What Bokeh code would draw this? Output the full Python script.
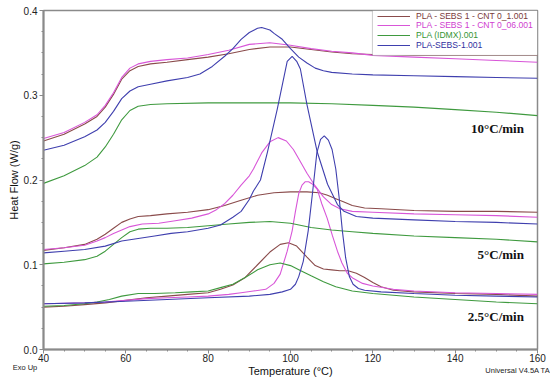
from bokeh.plotting import figure
from bokeh.models import (Label, BoxAnnotation, Legend, LegendItem, LinearAxis, Range1d,
                          FixedTicker, SingleIntervalTicker, PrintfTickFormatter)
from bokeh.embed import file_html
from bokeh.resources import INLINE

# ---------------- data ----------------
series_names = ["PLA - SEBS 1 - CNT 0_1.001", "PLA - SEBS 1 - CNT 0_06.001",
                "PLA (IDMX).001", "PLA-SEBS-1.001"]
rate_labels = ["10°C/min", "5°C/min", "2.5°C/min"]
x_ticks_major = [40, 60, 80, 100, 120, 140, 160]
y_ticks_major = [0.0, 0.1, 0.2, 0.3, 0.4]

# 10 °C/min
t_10_brown = [40, 45, 50, 53, 55, 57, 59, 61, 63, 66, 70, 75, 80, 85, 90, 95, 100, 105, 110, 115, 120, 130, 140, 150, 160]
hf_10_brown = [0.246, 0.254, 0.266, 0.275, 0.286, 0.301, 0.319, 0.329, 0.334, 0.337, 0.339, 0.342, 0.345, 0.349, 0.354, 0.357, 0.357, 0.354, 0.351, 0.349, 0.348, 0.347, 0.347, 0.347, 0.347]
t_10_pink = [40, 45, 50, 53, 55, 57, 59, 61, 63, 66, 70, 75, 80, 85, 90, 95, 100, 105, 110, 115, 120, 130, 140, 150, 160]
hf_10_pink = [0.249, 0.256, 0.268, 0.277, 0.288, 0.303, 0.321, 0.332, 0.337, 0.340, 0.342, 0.344, 0.348, 0.353, 0.360, 0.362, 0.359, 0.355, 0.352, 0.350, 0.347, 0.345, 0.343, 0.341, 0.339]
t_10_green = [40, 45, 50, 53, 55, 57, 59, 61, 63, 66, 70, 80, 90, 100, 110, 120, 130, 140, 150, 160]
hf_10_green = [0.196, 0.205, 0.217, 0.227, 0.239, 0.254, 0.271, 0.282, 0.287, 0.289, 0.290, 0.291, 0.291, 0.291, 0.290, 0.288, 0.286, 0.283, 0.280, 0.276]
t_10_blue = [40, 45, 50, 53, 55, 57, 59, 61, 63, 66, 70, 75, 78, 81, 84, 86, 88, 90, 92, 93, 95, 96, 98, 100, 102, 104, 106, 108, 110, 115, 120, 130, 140, 150, 160]
hf_10_blue = [0.235, 0.241, 0.251, 0.259, 0.268, 0.281, 0.296, 0.305, 0.310, 0.313, 0.317, 0.321, 0.325, 0.334, 0.346, 0.355, 0.366, 0.374, 0.379, 0.380, 0.377, 0.373, 0.366, 0.355, 0.345, 0.338, 0.332, 0.329, 0.327, 0.325, 0.324, 0.323, 0.322, 0.321, 0.320]

# 5 °C/min
t_5_brown = [40, 45, 50, 53, 55, 57, 59, 61, 63, 66, 70, 75, 80, 84, 88, 92, 96, 100, 104, 107, 109, 111, 113, 115, 118, 122, 130, 140, 150, 160]
hf_5_brown = [0.117, 0.120, 0.124, 0.130, 0.136, 0.143, 0.150, 0.154, 0.157, 0.158, 0.160, 0.162, 0.165, 0.170, 0.176, 0.182, 0.185, 0.186, 0.186, 0.185, 0.182, 0.178, 0.174, 0.170, 0.167, 0.166, 0.164, 0.163, 0.163, 0.162]
t_5_pink = [40, 45, 50, 53, 55, 57, 59, 61, 64, 68, 72, 76, 80, 82, 84, 86, 88, 90, 91, 93, 95, 97, 99, 100.7, 102, 104, 106, 108, 110, 112, 115, 120, 130, 140, 150, 160]
hf_5_pink = [0.118, 0.120, 0.123, 0.128, 0.132, 0.137, 0.141, 0.145, 0.148, 0.149, 0.152, 0.155, 0.160, 0.165, 0.172, 0.182, 0.194, 0.205, 0.213, 0.232, 0.245, 0.250, 0.246, 0.236, 0.225, 0.208, 0.193, 0.180, 0.171, 0.166, 0.163, 0.162, 0.160, 0.159, 0.158, 0.156]
t_5_green = [40, 45, 50, 53, 55, 57, 59, 61, 63, 66, 70, 75, 80, 85, 90, 95, 100, 105, 110, 115, 120, 130, 140, 150, 160]
hf_5_green = [0.101, 0.103, 0.106, 0.110, 0.116, 0.124, 0.132, 0.139, 0.142, 0.143, 0.143, 0.144, 0.146, 0.148, 0.150, 0.151, 0.149, 0.144, 0.141, 0.139, 0.137, 0.134, 0.132, 0.130, 0.127]
t_5_blue = [40, 45, 50, 55, 59, 63, 67, 71, 75, 80, 83, 86, 88, 90, 91, 92.7, 94.4, 96.8, 99.2, 100.4, 101.5, 102.4, 104, 106.5, 109, 111.4, 113, 116, 120, 130, 140, 150, 160]
hf_5_blue = [0.114, 0.116, 0.118, 0.122, 0.128, 0.131, 0.134, 0.137, 0.139, 0.143, 0.147, 0.156, 0.163, 0.177, 0.187, 0.200, 0.233, 0.284, 0.340, 0.346, 0.340, 0.331, 0.289, 0.233, 0.195, 0.171, 0.163, 0.157, 0.155, 0.153, 0.151, 0.150, 0.148]

# 2.5 °C/min
t_25_brown = [40, 45, 50, 55, 60, 65, 70, 75, 80, 83, 86, 89, 92, 95, 97.5, 99.5, 101.5, 104, 106, 108, 110, 112, 114, 116, 118, 120, 122, 125, 130, 140, 150, 160]
hf_25_brown = [0.050, 0.051, 0.053, 0.055, 0.058, 0.061, 0.063, 0.065, 0.067, 0.071, 0.076, 0.085, 0.100, 0.115, 0.124, 0.126, 0.122, 0.109, 0.099, 0.095, 0.094, 0.093, 0.093, 0.090, 0.085, 0.079, 0.074, 0.070, 0.068, 0.066, 0.065, 0.063]
t_25_pink = [40, 50, 55, 60, 65, 70, 75, 80, 85, 88, 91, 94, 96, 97.5, 99.2, 100.4, 101.2, 102.0, 102.8, 103.6, 104.4, 105.4, 106.5, 107.6, 108.9, 110.2, 111.4, 112.5, 113.8, 115.2, 117.5, 120, 125, 130, 140, 150, 160]
hf_25_pink = [0.054, 0.055, 0.056, 0.058, 0.060, 0.061, 0.062, 0.063, 0.065, 0.067, 0.069, 0.071, 0.078, 0.089, 0.116, 0.140, 0.163, 0.184, 0.194, 0.198, 0.198, 0.195, 0.189, 0.172, 0.155, 0.134, 0.116, 0.102, 0.090, 0.084, 0.078, 0.075, 0.071, 0.069, 0.067, 0.066, 0.065]
t_25_green = [40, 45, 50, 53, 56, 59, 63, 67, 72, 76, 80, 83, 86, 89, 92, 95, 97.5, 100, 102.5, 105, 108, 111, 115, 120, 130, 140, 150, 160]
hf_25_green = [0.051, 0.052, 0.054, 0.056, 0.059, 0.063, 0.066, 0.066, 0.067, 0.068, 0.069, 0.073, 0.077, 0.085, 0.094, 0.100, 0.102, 0.099, 0.093, 0.087, 0.080, 0.074, 0.069, 0.066, 0.062, 0.059, 0.056, 0.054]
t_25_blue = [40, 50, 60, 70, 80, 90, 95, 98, 100, 101.2, 102, 103.1, 104.3, 105.4, 106.4, 107.3, 108.2, 109.2, 110.1, 111.0, 111.8, 112.6, 113.4, 114.3, 115.2, 116.5, 118, 122, 130, 140, 150, 160]
hf_25_blue = [0.054, 0.055, 0.057, 0.059, 0.061, 0.063, 0.065, 0.068, 0.071, 0.077, 0.086, 0.104, 0.140, 0.187, 0.232, 0.248, 0.252, 0.247, 0.236, 0.213, 0.180, 0.140, 0.108, 0.086, 0.077, 0.072, 0.070, 0.068, 0.066, 0.064, 0.063, 0.062]

# ---------------- styling ----------------
line_colors = ["#8a4b4b", "#d856d8", "#3f9a3f", "#3f3fae"]
text_colors = ["#7a3a3a", "#d040d0", "#359535", "#3030a0"]
sans = "Liberation Sans"
serif = "Liberation Serif"
axis_gray = "#8a8a8a"

p = figure(width=550, height=384, x_range=(40, 160), y_range=(0, 0.4),
           output_backend="svg", toolbar_location=None,
           min_border_left=43, min_border_right=13, min_border_top=10, min_border_bottom=35)
p.background_fill_color = "white"
p.border_fill_color = "white"
p.xgrid.visible = False
p.ygrid.visible = False
p.outline_line_color = axis_gray
p.outline_line_width = 1.5

curves = {
    0: [(t_10_brown, hf_10_brown), (t_5_brown, hf_5_brown), (t_25_brown, hf_25_brown)],
    1: [(t_10_pink, hf_10_pink), (t_5_pink, hf_5_pink), (t_25_pink, hf_25_pink)],
    2: [(t_10_green, hf_10_green), (t_5_green, hf_5_green), (t_25_green, hf_25_green)],
    3: [(t_10_blue, hf_10_blue), (t_5_blue, hf_5_blue), (t_25_blue, hf_25_blue)],
}
first_renderers = []
for i in range(4):
    for j, (tt, hh) in enumerate(curves[i]):
        r = p.line(tt, hh, line_color=line_colors[i], line_width=1.1)
        if j == 0:
            first_renderers.append(r)

# axes
for ax in (p.xaxis[0], p.yaxis[0]):
    ax.axis_line_color = axis_gray
    ax.axis_line_width = 2
    ax.major_tick_line_color = axis_gray
    ax.minor_tick_line_color = axis_gray
    ax.major_tick_in = 0
    ax.major_tick_out = 4
    ax.minor_tick_in = 0
    ax.minor_tick_out = 2
    ax.major_label_text_font = sans
    ax.major_label_text_font_size = "10px"
    ax.major_label_text_color = "#222222"
    ax.axis_label_text_font = sans
    ax.axis_label_text_font_size = "11px"
    ax.axis_label_text_font_style = "normal"
    ax.axis_label_text_color = "#111111"

p.xaxis[0].ticker = SingleIntervalTicker(interval=x_ticks_major[1] - x_ticks_major[0], num_minor_ticks=4)
p.yaxis[0].ticker = SingleIntervalTicker(interval=round(y_ticks_major[1] - y_ticks_major[0], 3), num_minor_ticks=4)
p.yaxis[0].formatter = PrintfTickFormatter(format="%.1f")
p.xaxis[0].axis_label = "Temperature (°C)"
p.yaxis[0].axis_label = "Heat Flow (W/g)"
p.xaxis[0].major_label_standoff = 0
p.xaxis[0].axis_label_standoff = 0
p.yaxis[0].major_label_standoff = 2
p.yaxis[0].axis_label_standoff = 1

# footer on the right: a label-only helper axis under the main x axis
p.extra_x_ranges = {"footer": Range1d(0, 100)}
footer_axis = LinearAxis(x_range_name="footer", ticker=FixedTicker(ticks=[96]),
                         major_label_overrides={96: "Universal V4.5A TA"},
                         axis_line_alpha=0, major_tick_line_alpha=0, minor_tick_line_alpha=0,
                         major_tick_in=0, major_tick_out=0, minor_tick_in=0, minor_tick_out=0,
                         major_label_standoff=-14, major_label_text_font=sans,
                         major_label_text_font_size="7.5px", major_label_text_color="#222222")
p.add_layout(footer_axis, "below")

# legend box + one legend per entry (each with its own text colour)
p.add_layout(BoxAnnotation(left=119.9, right=160, top=0.4, bottom=0.347,
                           fill_color="white", fill_alpha=1.0,
                           line_color="#555555", line_width=1, level="overlay"))
row_y = [328, 319, 309, 299]
for i in range(4):
    lg = Legend(items=[LegendItem(label=series_names[i], renderers=[first_renderers[i]])],
                location=(334, row_y[i]), orientation="vertical",
                glyph_width=33, glyph_height=10, label_height=10,
                label_standoff=6, padding=0, margin=0, spacing=0,
                border_line_alpha=0, background_fill_alpha=0,
                label_text_font=sans, label_text_font_size="8.6px",
                label_text_color=text_colors[i], label_text_baseline="middle")
    p.add_layout(lg, "center")

# rate annotations
rate_x = [156.7, 156.7, 156.7]
rate_y = [0.2604, 0.1126, 0.0387]
for lab, xx, yy in zip(rate_labels, rate_x, rate_y):
    p.add_layout(Label(x=xx, y=yy, text=lab, text_align="right", text_baseline="middle",
                       text_font=serif, text_font_style="bold", text_font_size="13px",
                       text_color="#111111"))

# footer on the left (held by the top panel so it is not clipped to the frame)
p.add_layout(Label(x=32.5, y=-0.0212, text="Exo Up", text_align="left", text_baseline="middle",
                   text_font=sans, text_font_size="7.5px", text_color="#222222"), "above")

open("out.html", "w").write(file_html(p, INLINE))
